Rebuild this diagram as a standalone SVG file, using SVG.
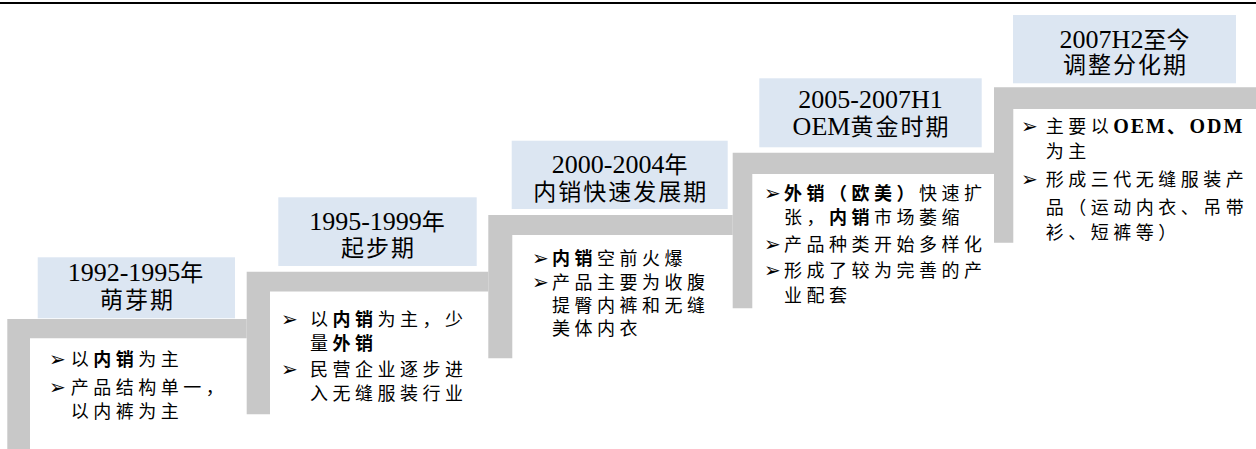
<svg xmlns="http://www.w3.org/2000/svg" width="1256" height="449" viewBox="0 0 1256 449">
<style>
.step{fill:#C8C8C8}
.lbl{fill:#DCE6F2}
.t{font-family:"Liberation Serif","Noto Sans CJK SC",serif;font-size:26px;fill:#000;text-anchor:middle}
.tc{font-size:23px;letter-spacing:2px}
.tl{font-size:26px;letter-spacing:0}
.cj{font-size:23px}
.b{font-family:"Liberation Serif","Noto Sans CJK SC",serif;font-size:18px;fill:#000;letter-spacing:4.5px}
.ar{font-family:"DejaVu Sans",sans-serif;font-size:20px;fill:#000}
.bd{font-weight:bold}
.lat{font-size:20px;letter-spacing:2px}
</style>
<rect x="0" y="2" width="1256" height="2" fill="#000"/>
<g id="connectors">
<path class="step" d="M7.3,319 H246.7 V338.3 H30 V449 H7.3 Z"/>
<path class="step" d="M246.7,271.7 H488.3 V291.5 H270 V414.3 H246.7 Z"/>
<path class="step" d="M488.3,215 H732.7 V235 H512.3 V358.3 H488.3 Z"/>
<path class="step" d="M732.7,152.7 H994 V174 H752.3 V308.3 H732.7 Z"/>
<path class="step" d="M994,87.3 H1256 V109 H1013.3 V242.7 H994 Z"/>
</g>
<g id="stage1">
<rect class="lbl" x="37.7" y="257.3" width="197.3" height="61"/>
<text class="t" x="135.5" y="280.5">1992-1995<tspan class="cj">年</tspan></text>
<text class="t tc" x="137.5" y="307.5">萌芽期</text>
<text class="ar" x="49" y="366">➢</text>
<text class="ar" x="49" y="394">➢</text>
<text class="b" x="70.7" y="366">以<tspan class="bd">内销</tspan>为主</text>
<text class="b" x="70.7" y="394">产品结构单一，</text>
<text class="b" x="70.7" y="418">以内裤为主</text>
</g>
<g id="stage2">
<rect class="lbl" x="278.3" y="197.3" width="198.4" height="68.7"/>
<text class="t" x="377" y="230">1995-1999<tspan class="cj">年</tspan></text>
<text class="t tc" x="378.5" y="256">起步期</text>
<text class="ar" x="281" y="326">➢</text>
<text class="ar" x="281" y="376">➢</text>
<text class="b" x="310" y="326">以<tspan class="bd">内销</tspan>为主，少</text>
<text class="b" x="310" y="350">量<tspan class="bd">外销</tspan></text>
<text class="b" x="310" y="376">民营企业逐步进</text>
<text class="b" x="310" y="400">入无缝服装行业</text>
</g>
<g id="stage3">
<rect class="lbl" x="511.7" y="140.7" width="216" height="68.3"/>
<text class="t" x="619.7" y="173.3">2000-2004<tspan class="cj">年</tspan></text>
<text class="t tc" x="620.7" y="199.5">内销快速发展期</text>
<text class="ar" x="532" y="264.5">➢</text>
<text class="ar" x="532" y="288.5">➢</text>
<text class="b" x="552" y="264.5"><tspan class="bd">内销</tspan>空前火爆</text>
<text class="b" x="552" y="288.5">产品主要为收腹</text>
<text class="b" x="552" y="312">提臀内裤和无缝</text>
<text class="b" x="552" y="335">美体内衣</text>
</g>
<g id="stage4">
<rect class="lbl" x="759.3" y="78.3" width="222.4" height="69"/>
<text class="t" x="870.5" y="108.3">2005-2007H1</text>
<text class="t tc" x="871.5" y="135"><tspan class="tl">OEM</tspan>黄金时期</text>
<text class="ar" x="764" y="200">➢</text>
<text class="ar" x="764" y="251">➢</text>
<text class="ar" x="764" y="277">➢</text>
<text class="b" x="784" y="200"><tspan class="bd">外销（欧美）</tspan>快速扩</text>
<text class="b" x="784" y="224">张，<tspan class="bd">内销</tspan>市场萎缩</text>
<text class="b" x="784" y="251">产品种类开始多样化</text>
<text class="b" x="784" y="277">形成了较为完善的产</text>
<text class="b" x="784" y="302">业配套</text>
</g>
<g id="stage5">
<rect class="lbl" x="1013" y="15" width="223" height="68.3"/>
<text class="t" x="1124.5" y="48">2007H2<tspan class="cj">至今</tspan></text>
<text class="t tc" x="1125.5" y="73">调整分化期</text>
<text class="ar" x="1021" y="133">➢</text>
<text class="ar" x="1021" y="186">➢</text>
<text class="b" x="1045.7" y="133">主要以<tspan class="bd lat">OEM</tspan><tspan class="bd">、</tspan><tspan class="bd lat">ODM</tspan></text>
<text class="b" x="1045.7" y="158">为主</text>
<text class="b" x="1045.7" y="186">形成三代无缝服装产</text>
<text class="b" x="1045.7" y="214">品（运动内衣、吊带</text>
<text class="b" x="1045.7" y="239">衫、短裤等）</text>
</g>
</svg>
